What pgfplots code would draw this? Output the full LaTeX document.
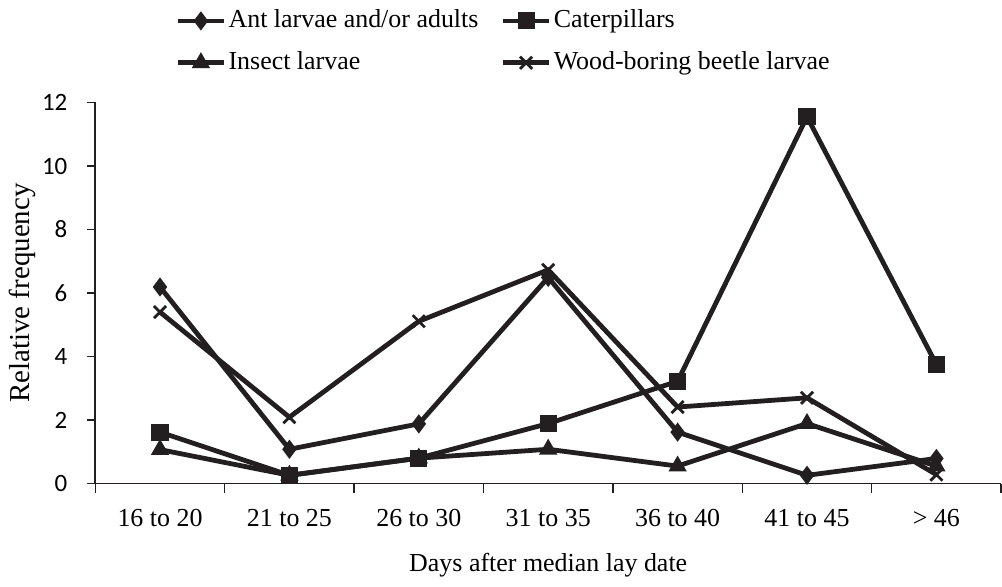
\documentclass[border=0pt]{standalone}
\usepackage{fontspec}
\setmainfont{Liberation Serif}
\newfontfamily\tickfont{Carlito}
\usepackage{pgfplots}
\pgfplotsset{compat=1.18}
\definecolor{ink}{HTML}{231F20}
\begin{document}
\fontsize{13}{15.6}\selectfont
\begin{tikzpicture}
\begin{axis}[
    scale only axis, width=454pt, height=191pt,
    xmin=-0.5, xmax=6.5, ymin=0, ymax=12,
    axis x line*=bottom, axis y line*=left,
    axis line style={ink, line width=0.9pt},
    every tick/.style={ink, line width=0.7pt},
    tick align=outside,
    xtick={0,...,6},
    xticklabels={16 to 20, 21 to 25, 26 to 30, 31 to 35, 36 to 40, 41 to 45, > 46},
    minor xtick={-0.5,0.5,...,6.5},
    major x tick style={draw=none},
    minor tick length=4.5pt,
    ytick={0,2,...,12}, major tick length=4pt,
    xticklabel style={yshift=-4.5pt},
    yticklabel style={xshift=-5.5pt, font=\tickfont\fontsize{12.5}{15}\selectfont},
    /pgf/number format/assume math mode=true,
    xlabel={Days after median lay date},
    ylabel={Relative frequency},
    xlabel style={at={(axis description cs:0.5,-0.215)}, anchor=center},
    ylabel style={at={(axis description cs:-0.081,0.5)}, anchor=center,
        font=\fontsize{14.5}{17}\selectfont},
    legend style={at={(axis description cs:0.079,1.27)}, anchor=north west,
        draw=none, fill=none, row sep=8pt, inner sep=4pt,
        nodes={inner sep=1pt},
        /tikz/every even column/.append style={column sep=10pt}},
    legend columns=2, legend cell align=left,
    legend image code/.code={\draw[mark repeat=2,mark phase=2] plot coordinates {(0cm,0cm) (0.41cm,0cm) (0.82cm,0cm)};},
    every axis plot/.append style={ink, line width=2.4pt, mark options={solid, fill=ink, line width=1pt}},
]
\addplot[mark=diamond*, mark size=4pt] coordinates {
    (0,6.19) (1,1.08) (2,1.88) (3,6.49) (4,1.62) (5,0.26) (6,0.79)};
\addlegendentry{Ant larvae and/or adults}
\addplot[mark=square*, mark size=3.8pt] coordinates {
    (0,1.62) (1,0.26) (2,0.8) (3,1.89) (4,3.22) (5,11.55) (6,3.75)};
\addlegendentry{Caterpillars}
\addplot[mark=triangle*, mark size=4.3pt] coordinates {
    (0,1.07) (1,0.26) (2,0.8) (3,1.08) (4,0.55) (5,1.89) (6,0.55)};
\addlegendentry{Insect larvae}
\addplot[mark=x, mark size=4.3pt, mark options={line width=1.4pt}] coordinates {
    (0,5.4) (1,2.09) (2,5.11) (3,6.73) (4,2.41) (5,2.7) (6,0.28)};
\addlegendentry{Wood-boring beetle larvae}
\end{axis}
\end{tikzpicture}
\end{document}
